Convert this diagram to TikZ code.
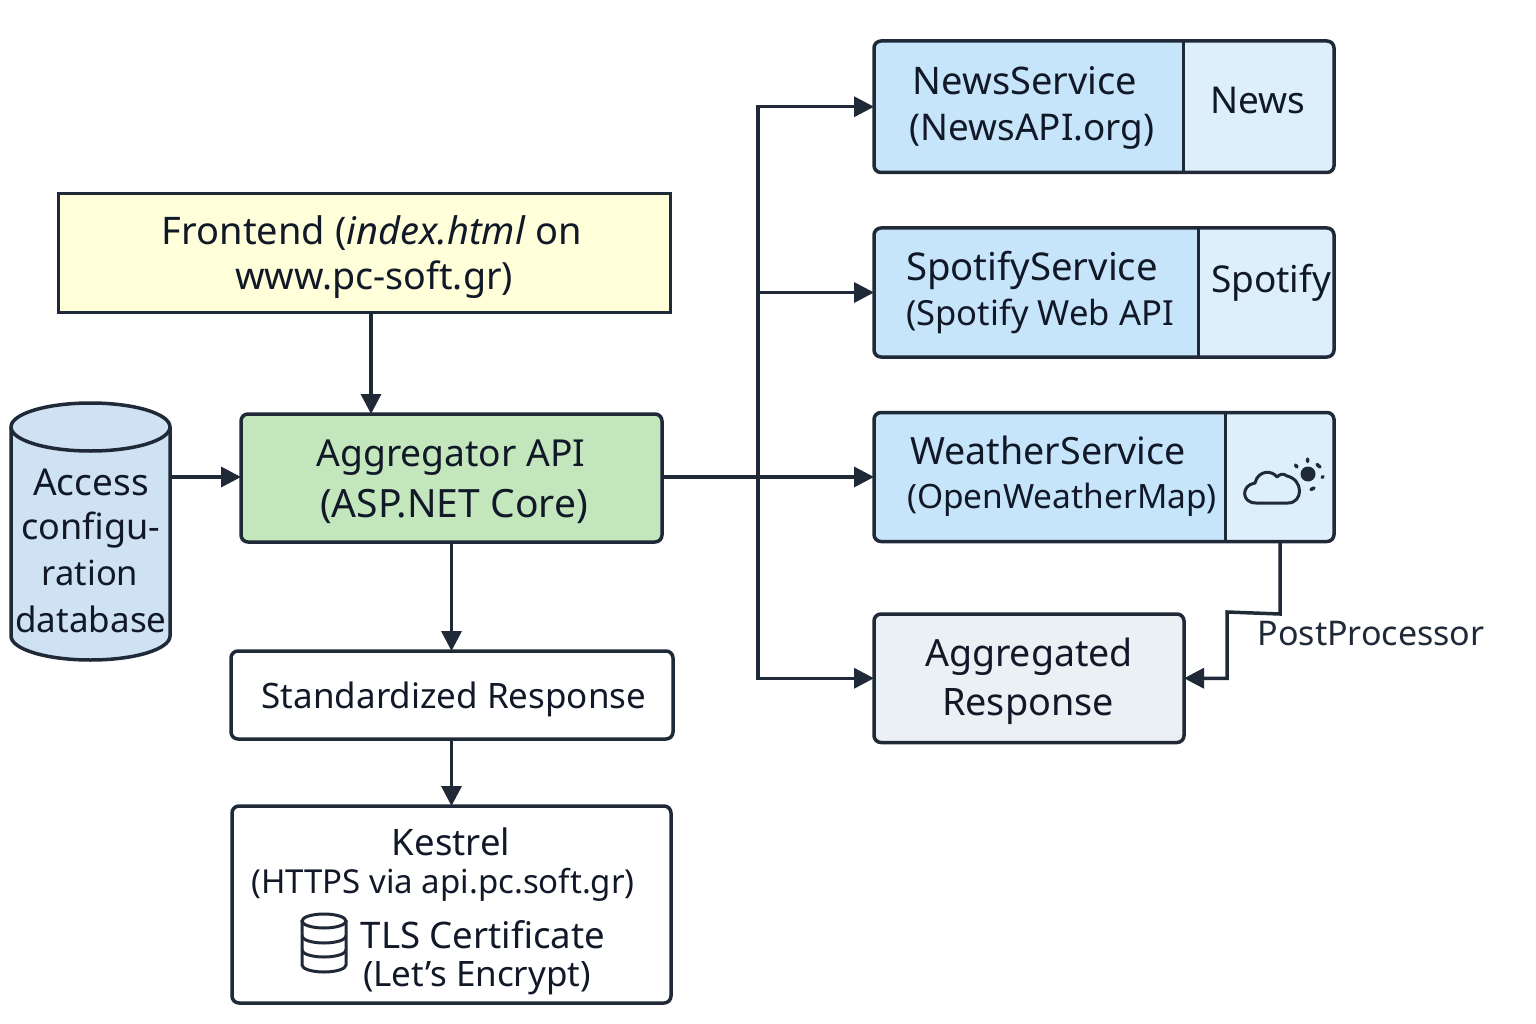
\documentclass[tikz,border=0pt]{standalone}
\usepackage{fontspec}
\setmainfont{Noto Sans}
\usetikzlibrary{arrows.meta,calc}
\definecolor{ink}{HTML}{1F2937}
\definecolor{txt}{HTML}{111827}
\definecolor{blueL}{HTML}{C6E5FA}
\definecolor{blueR}{HTML}{DEEFFC}
\definecolor{dbfill}{HTML}{CFE2F3}
\definecolor{greenf}{HTML}{C3E6BC}
\definecolor{yellowf}{HTML}{FFFFD9}
\definecolor{greyf}{HTML}{EAF0F4}
\newcommand{\fs}[1]{\fontsize{#1}{#1}\selectfont}
\tikzset{
  x=1pt,y=-1pt,
  box/.style={draw=ink,line width=3.5pt,rounded corners=7pt,inner sep=0pt,outer sep=0pt,anchor=north west},
  lbl/.style={text=txt,inner sep=0pt,align=center},
  conn/.style={draw=ink,line width=3.5pt,-{Triangle[length=20pt,width=20pt]}},
}
\begin{document}
\begin{tikzpicture}
\useasboundingbox (0,0) rectangle (1536,1024);
% split boxes
\fill[blueR,rounded corners=7pt] (874,41.5) rectangle (1334,172);
\fill[blueL,rounded corners=7pt] (1183.5,41.5) -- (874,41.5) -- (874,172) -- (1183.5,172) [sharp corners] -- cycle;
\fill[blueR,rounded corners=7pt] (874,228) rectangle (1334,357);
\fill[blueL,rounded corners=7pt] (1198,228) -- (874,228) -- (874,357) -- (1198,357) [sharp corners] -- cycle;
\fill[blueR,rounded corners=7pt] (874,412.5) rectangle (1334,542);
\fill[blueL,rounded corners=7pt] (1225,412.5) -- (874,412.5) -- (874,542) -- (1225,542) [sharp corners] -- cycle;
\node[box,minimum width=460pt,minimum height=131.5pt] (news) at (874,41) {};
\node[box,minimum width=460pt,minimum height=129pt] (spot) at (874,228) {};
\node[box,minimum width=460pt,minimum height=129pt] (wx) at (874,412.5) {};
\draw[ink,line width=3pt] (1183.5,41.5) -- (1183.5,172) (1198,228) -- (1198,357) (1225,412.5) -- (1225,542);
\node[lbl,font=\fs{38}] at (1025,81) {NewsService};
\node[lbl,font=\fs{36.8}] at (1032,132) {(NewsAPI.org)};
\node[lbl,font=\fs{37}] at (1258,100) {News};
\node[lbl,font=\fs{38.3}] at (1032,270) {SpotifyService};
\node[lbl,font=\fs{34.6}] at (1040,316) {(Spotify Web API};
\node[lbl,font=\fs{37}] at (1271,283) {Spotify};
\node[lbl,font=\fs{37.6}] at (1048,450) {WeatherService};
\node[lbl,font=\fs{33.5}] at (1062,500) {(OpenWeatherMap)};
% weather icon
\draw[ink,line width=3pt,line join=round]
  (1256,503) -- (1288,503) .. controls (1303,503) and (1304,480) .. (1287,476)
  .. controls (1283,473) and (1280,474) .. (1277,477)
  .. controls (1272,470) and (1258,470) .. (1255,483)
  .. controls (1241,485) and (1241,503) .. (1256,503) -- cycle;
\fill[ink] (1308,474) circle (7.5pt);
\draw[ink,line width=3.5pt,line cap=round] (1307.5,459) -- (1307.5,461.5) (1295.5,465) -- (1297,467) (1317,464.5) -- (1320,467) (1323,476.5) -- (1322,477.5) (1314,488) -- (1311,489.5);
% frontend
\node[box,rounded corners=0pt,line width=3pt,fill=yellowf,minimum width=612pt,minimum height=118pt] (front) at (58,194) {};
\node[lbl,font=\fs{38}] at (372,233) {Frontend (\textit{index.html} on};
\node[lbl,font=\fs{37.6}] at (374,280) {www.pc-soft.gr)};
% aggregator
\node[box,fill=greenf,minimum width=421pt,minimum height=128pt] (agg) at (241,414) {};
\node[lbl,font=\fs{37.2}] at (451,458) {Aggregator API};
\node[lbl,font=\fs{39}] at (454,506) {(ASP.NET Core)};
% database
\draw[ink,line width=3.5pt,fill=dbfill] (11,427) -- (11,636) arc[start angle=180,end angle=360,x radius=79.5pt,y radius=24pt] -- (170,427) arc[start angle=0,end angle=180,x radius=79.5pt,y radius=24pt] -- cycle;
\draw[ink,line width=3.5pt] (11,427) arc[start angle=180,end angle=360,x radius=79.5pt,y radius=24pt];
\node[lbl,font=\fs{37}] at (91,482) {Access};
\node[lbl,font=\fs{36}] at (91,530) {configu-};
\node[lbl,font=\fs{34.5}] at (90,573) {ration};
\node[lbl,font=\fs{35}] at (91,619) {database};
\coordinate (dbout) at (170,477);
% standard
\node[box,minimum width=442pt,minimum height=88pt] (std) at (231,651) {};
\node[lbl,font=\fs{35}] at (454,699) {Standardized Response};
% kestrel
\node[box,minimum width=439pt,minimum height=197pt] (kes) at (232,806) {};
\node[lbl,font=\fs{36.5}] at (451,842) {Kestrel};
\node[lbl,font=\fs{33}] at (443,885) {(HTTPS via api.pc.soft.gr)};
\node[lbl,font=\fs{36.6}] at (483,935) {TLS Certificate};
\node[lbl,font=\fs{35}] at (477,978) {(Let’s Encrypt)};
% kestrel db icon
\draw[ink,line width=3pt] (302,921) -- (302,965) arc[start angle=180,end angle=360,x radius=22pt,y radius=7pt] -- (346,921);
\draw[ink,line width=3pt] (324,921) ellipse[x radius=22pt,y radius=7pt];
\draw[ink,line width=3pt] (302,936) arc[start angle=180,end angle=360,x radius=22pt,y radius=7pt];
\draw[ink,line width=3pt] (302,950) arc[start angle=180,end angle=360,x radius=22pt,y radius=7pt];
% aggregated
\node[box,fill=greyf,minimum width=310pt,minimum height=128.5pt] (resp) at (874,614) {};
\node[lbl,font=\fs{37.5}] at (1029,657) {Aggregated};
\node[lbl,font=\fs{37.8}] at (1028,707) {Response};
% postprocessor
\node[lbl,font=\fs{34},text=ink] (pp) at (1371,634) {PostProcessor};
% connectors
\coordinate (trunk) at (758,477);
\draw[conn] (front.south -| 371,0) -- (agg.north -| 371,0);
\draw[conn] (dbout) -- (agg.west |- dbout);
\draw[conn] (agg.south) -- (std.north -| agg.south);
\draw[conn] (std.south -| agg.south) -- (kes.north -| agg.south);
\draw[conn] (agg.east |- wx.west) -- (wx.west);
\draw[conn] (trunk) |- (news.west);
\draw[conn] (trunk) |- (spot.west);
\draw[conn] (trunk) |- (resp.west);
\coordinate (ppa) at (1280,542);
\coordinate (ppb) at (1280,614);
\coordinate (ppc) at (1227,612);
\draw[conn] (ppa) -- (ppb) -- (ppc) |- (resp.east);
\end{tikzpicture}
\end{document}
